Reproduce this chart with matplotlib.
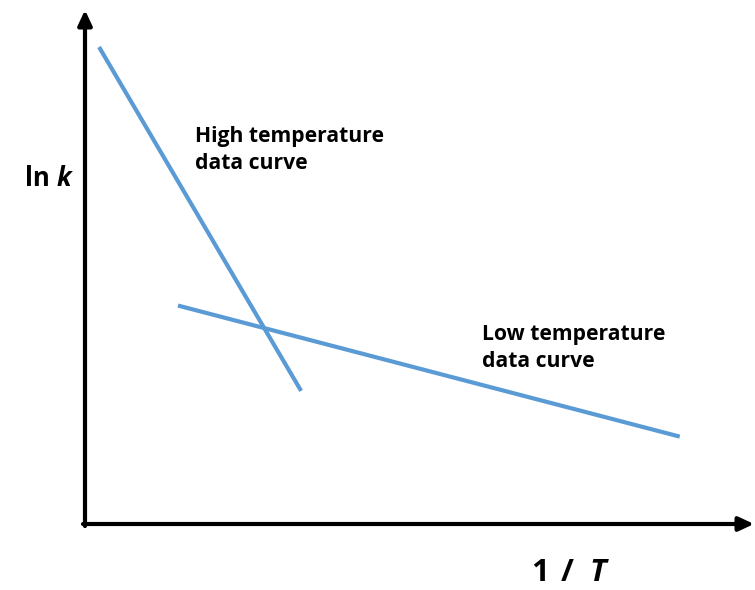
import matplotlib
matplotlib.use("Agg")
import matplotlib.pyplot as plt

FONT = ['Open Sans', 'DejaVu Sans']
plt.rcParams['font.family'] = FONT

# Data (arbitrary units: x = 1/T, y = ln k)
high_x = [0.21, 3.23]
high_y = [9.28, 2.59]
low_x = [1.39, 8.89]
low_y = [4.25, 1.70]

line_color = '#5B9BD5'

W, H = 755, 590
fig = plt.figure(figsize=(W / 100, H / 100), dpi=100)
x0, y0 = 85, 524
x1, y1 = 754, 10
ax = fig.add_axes([x0 / W, (H - y0) / H, (x1 - x0) / W, (y0 - y1) / H])
ax.set_xlim(0, 10)
ax.set_ylim(0, 10)
ax.axis('off')

ax.plot(high_x, high_y, color=line_color, lw=3.0, solid_capstyle='butt', clip_on=False)
ax.plot(low_x, low_y, color=line_color, lw=3.0, solid_capstyle='butt', clip_on=False)

# axes with arrows
arrow_kw = dict(arrowstyle='-|>,head_length=0.9,head_width=0.42', lw=3.0,
                color='black', shrinkA=0, shrinkB=0)
ax.annotate('', xy=(0, 1), xytext=(0, -0.004), xycoords='axes fraction',
            textcoords='axes fraction', arrowprops=arrow_kw, annotation_clip=False)
ax.annotate('', xy=(1, 0), xytext=(-0.003, 0), xycoords='axes fraction',
            textcoords='axes fraction', arrowprops=arrow_kw, annotation_clip=False)


def px(x, y):
    return x / W, 1 - y / H


lab_fs = 15.2
fig.text(*px(195, 142), 'High temperature', fontsize=lab_fs, fontweight='bold', va='baseline', ha='left')
fig.text(*px(195, 169), 'data curve', fontsize=lab_fs, fontweight='bold', va='baseline', ha='left')
fig.text(*px(482, 340), 'Low temperature', fontsize=lab_fs, fontweight='bold', va='baseline', ha='left')
fig.text(*px(482, 367), 'data curve', fontsize=lab_fs, fontweight='bold', va='baseline', ha='left')

# y-axis label: ln k
fig.text(*px(25, 186), 'ln', fontsize=18.5, fontweight='bold', va='baseline', ha='left')
fig.text(*px(71, 186), 'k', fontsize=18.5, fontweight='bold', style='italic',
         va='baseline', ha='right')

# x-axis label: 1 / T
fig.text(*px(531, 581), '1', fontsize=22.5, fontweight='bold', va='baseline', ha='left')
fig.text(*px(561, 581), '/', fontsize=22.5, fontweight='bold', va='baseline', ha='left')
fig.text(*px(606, 581), 'T', fontsize=22.5, fontweight='bold', style='italic',
         va='baseline', ha='right')

fig.savefig('out.png', dpi=100, facecolor='white')
